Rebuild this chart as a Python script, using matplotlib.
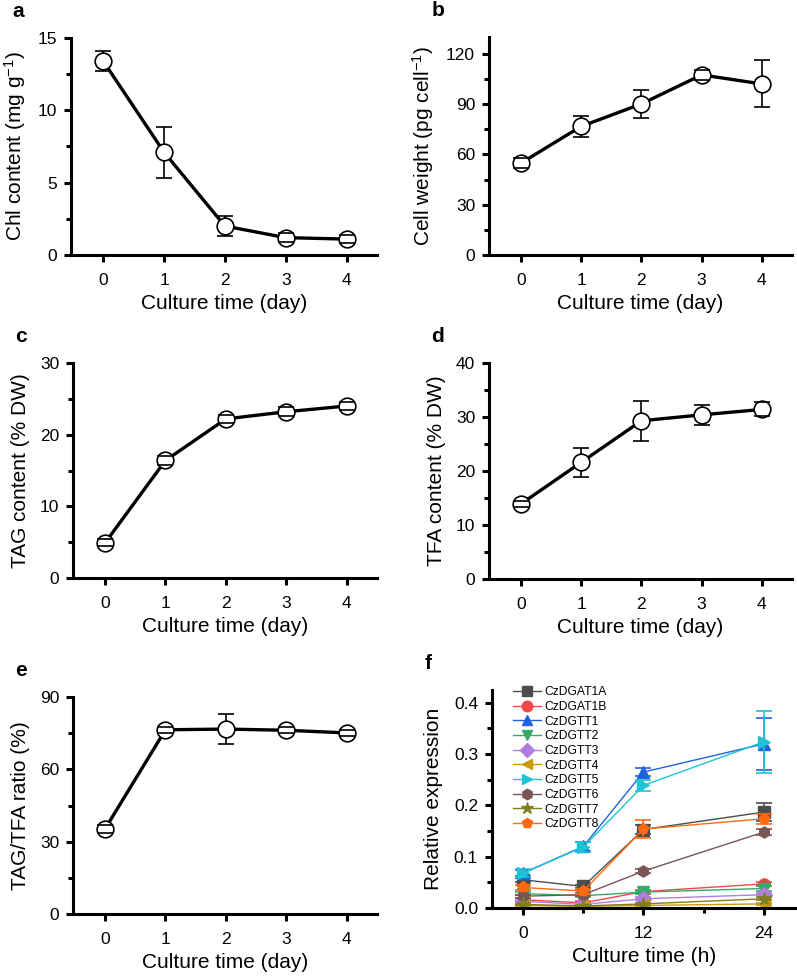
import matplotlib
matplotlib.use("Agg")
import matplotlib.pyplot as plt
from matplotlib.ticker import MultipleLocator, FormatStrFormatter

plt.rcParams['font.family'] = ['Liberation Sans', 'DejaVu Sans']
plt.rcParams['mathtext.fontset'] = 'custom'
plt.rcParams['mathtext.rm'] = 'Liberation Sans'
plt.rcParams['mathtext.it'] = 'Liberation Sans:italic'

# ---- data, panels a-e (culture time in days) ----
days = [0, 1, 2, 3, 4]

chl = [13.4, 7.1, 2.0, 1.2, 1.1]
chl_err = [0.7, 1.75, 0.7, 0.3, 0.3]

cell_wt = [54.8, 76.7, 90.1, 107.4, 102.0]
cell_wt_err = [3.0, 6.3, 8.5, 3.0, 14.0]

tag = [4.9, 16.4, 22.2, 23.2, 24.0]
tag_err = [0.5, 0.6, 0.6, 0.6, 0.6]

tfa = [13.9, 21.6, 29.3, 30.4, 31.4]
tfa_err = [0.6, 2.7, 3.7, 1.85, 1.3]

ratio = [35.3, 76.4, 76.7, 76.2, 75.1]
ratio_err = [1.5, 1.2, 6.4, 1.2, 1.2]

# ---- data, panel f (culture time in hours) ----
hours = [0, 6, 12, 24]
genes = ['CzDGAT1A', 'CzDGAT1B', 'CzDGTT1', 'CzDGTT2', 'CzDGTT3',
         'CzDGTT4', 'CzDGTT5', 'CzDGTT6', 'CzDGTT7', 'CzDGTT8']
expr = [
    [0.055, 0.042, 0.153, 0.187],
    [0.016, 0.010, 0.032, 0.047],
    [0.068, 0.120, 0.265, 0.320],
    [0.028, 0.024, 0.031, 0.038],
    [0.013, 0.007, 0.018, 0.026],
    [0.005, 0.003, 0.005, 0.008],
    [0.068, 0.119, 0.239, 0.324],
    [0.023, 0.026, 0.072, 0.148],
    [0.007, 0.004, 0.008, 0.018],
    [0.040, 0.033, 0.154, 0.174],
]
expr_err = [
    [0.004, 0.003, 0.008, 0.017],
    [0.003, 0.003, 0.004, 0.004],
    [0.006, 0.008, 0.008, 0.050],
    [0.003, 0.003, 0.003, 0.004],
    [0.002, 0.002, 0.003, 0.004],
    [0.001, 0.001, 0.002, 0.002],
    [0.008, 0.010, 0.010, 0.060],
    [0.003, 0.003, 0.004, 0.006],
    [0.001, 0.001, 0.002, 0.003],
    [0.004, 0.005, 0.017, 0.010],
]
colors = ['#4d4d4d', '#f04848', '#1f63e0', '#38a86a', '#b07ee0',
          '#c89a08', '#1ec4d4', '#7a5555', '#7f7f1e', '#ff6a10']
markers = ['s', 'o', '^', 'v', 'D', '<', '>', 'h', '*', 'p']

W, H = 797, 977
fig = plt.figure(figsize=(W / 100, H / 100), dpi=100)


def add_ax(left, right, top, bottom):
    return fig.add_axes([left / W, 1 - bottom / H, (right - left) / W, (bottom - top) / H])


def style(ax):
    for s in ['top', 'right']:
        ax.spines[s].set_visible(False)
    for s in ['left', 'bottom']:
        ax.spines[s].set_linewidth(2.2)
    ax.tick_params(which='major', direction='out', length=5, width=2.2, labelsize=12.5, pad=5)
    ax.tick_params(which='minor', direction='out', length=3.5, width=2.2)
    ax.tick_params(axis='x', which='major', pad=8)


def day_panel(ax, y, err, ymax, step, ylabel, letter):
    eb = ax.errorbar(days, y, yerr=err, fmt='none', ecolor='black',
                     elinewidth=1.2, capsize=5.5, capthick=1.2, zorder=2)
    # caps stay visible over the open circles
    for cap in eb[1]:
        cap.set_zorder(4)
    ax.plot(days, y, color='black', lw=2.4, marker='o', ms=12,
            mfc='white', mec='black', mew=1.2, zorder=3)
    ax.set_xlim(-0.53, 4.5)
    ax.set_ylim(0, ymax)
    ax.set_xticks(days)
    ax.yaxis.set_major_locator(MultipleLocator(step))
    ax.yaxis.set_minor_locator(MultipleLocator(step / 2))
    ax.set_xlabel('Culture time (day)', fontsize=15, labelpad=4)
    ax.set_ylabel(ylabel, fontsize=15, labelpad=7)
    style(ax)
    ax.text(-0.19, 1.08, letter, transform=ax.transAxes, fontsize=15,
            fontweight='bold', va='bottom', ha='left')


ax_a = add_ax(71, 377, 38, 255)
day_panel(ax_a, chl, chl_err, 15, 5, 'Chl content (mg g$^{\\mathregular{-1}}$)', 'a')

ax_b = add_ax(489, 792, 37, 255)
day_panel(ax_b, cell_wt, cell_wt_err, 130, 30, 'Cell weight (pg cell$^{\\mathregular{-1}}$)', 'b')

ax_c = add_ax(73, 377, 363, 578)
day_panel(ax_c, tag, tag_err, 30, 10, 'TAG content (% DW)', 'c')

ax_d = add_ax(489, 792, 363, 579)
day_panel(ax_d, tfa, tfa_err, 40, 10, 'TFA content (% DW)', 'd')

ax_e = add_ax(73, 377, 697, 914)
day_panel(ax_e, ratio, ratio_err, 90, 30, 'TAG/TFA ratio (%)', 'e')

# ---- panel f ----
ax_f = add_ax(492, 796, 690, 908)
for g, y, e, c, m in zip(genes, expr, expr_err, colors, markers):
    ms = 9.5 if m == '*' else 8
    ax_f.errorbar(hours, y, yerr=e, fmt='none', ecolor=c,
                  elinewidth=1.2, capsize=6, capthick=1.2)
    ax_f.plot(hours, y, color=c, lw=1.0, marker=m, ms=ms,
              mec=c, mfc=c, label=g)
ax_f.set_xlim(-3.1, 27.2)
ax_f.set_ylim(0, 0.425)
ax_f.set_xticks([0, 12, 24])
ax_f.xaxis.set_minor_locator(MultipleLocator(6))
ax_f.yaxis.set_major_locator(MultipleLocator(0.1))
ax_f.yaxis.set_minor_locator(MultipleLocator(0.05))
ax_f.yaxis.set_major_formatter(FormatStrFormatter('%.1f'))
ax_f.set_xlabel('Culture time (h)', fontsize=15, labelpad=4)
ax_f.set_ylabel('Relative expression', fontsize=15, labelpad=8)
style(ax_f)
leg = ax_f.legend(loc='upper left', bbox_to_anchor=(0.045, 1.05), frameon=False,
                  fontsize=8.7, handlelength=2.3, handletextpad=0.3,
                  labelspacing=0.22, borderaxespad=0.2, markerscale=0.95)
ax_f.text(-0.22, 1.08, 'f', transform=ax_f.transAxes, fontsize=15,
          fontweight='bold', va='bottom', ha='left')

fig.savefig('out.png', dpi=100)
